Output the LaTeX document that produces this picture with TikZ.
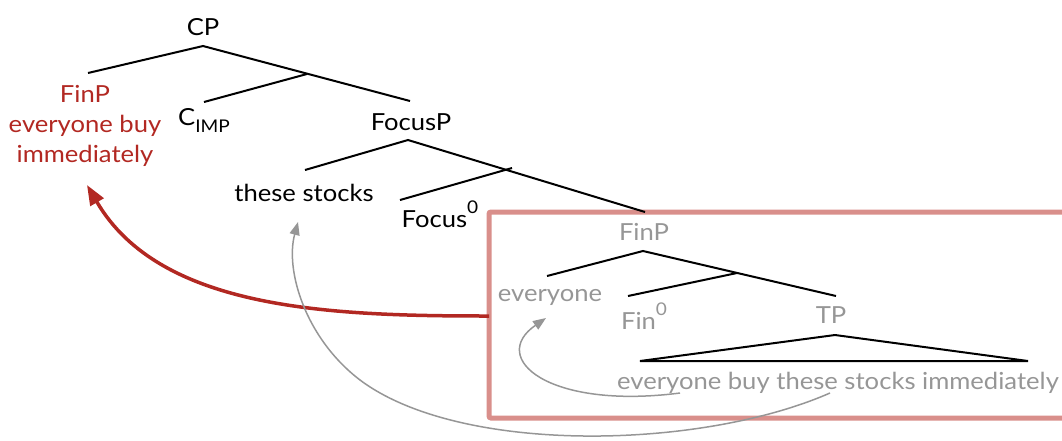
\documentclass[tikz,border=0pt]{standalone}
\usepackage{fontspec}
\setmainfont{Lato}[FakeStretch=1.09]
\usetikzlibrary{arrows.meta}
\definecolor{treered}{RGB}{178,40,34}
\definecolor{boxred}{RGB}{217,143,139}
\definecolor{txtgray}{RGB}{150,150,150}
\newcommand{\mysub}[1]{\raisebox{-0.34em}{\fontsize{17.5}{17.5}\selectfont #1}}
\newcommand{\mysup}[1]{\raisebox{0.56em}{\fontsize{17.5}{17.5}\selectfont #1}}
\begin{document}
\begin{tikzpicture}[x=1pt,y=-1pt,
  lbl/.style={inner sep=0pt, font=\fontsize{23.5}{30}\selectfont, anchor=base},
  glbl/.style={lbl, text=txtgray},
  branch/.style={line width=2pt, black},
  movebox/.style={draw=boxred, line width=5pt, rounded corners=2pt},
  redmove/.style={draw=treered, line width=3.5pt, -{Triangle[length=20pt,width=15pt]}},
  graymove/.style={draw=txtgray, line width=1.5pt, -{Triangle[length=13pt,width=10pt]}}]
\useasboundingbox (0,0) rectangle (1062,440);
% box
\draw[movebox] (489,212) rectangle (1075,418);
% labels
\node[lbl] (cp) at (203,35) {CP};
\node[lbl, text=treered, align=center, anchor=north] (finpR) at (85,85) {FinP\\everyone buy\\immediately};
\node[lbl] (cimp) at (204,125) {C\mysub{IMP}};
\node[lbl] (focusp) at (411,130) {FocusP};
\node[lbl] (these) at (304,201) {these stocks};
\node[lbl] (focus0) at (440,227) {Focus\mysup{0}};
\node[glbl] (finpG) at (644,240) {FinP};
\node[glbl] (every) at (550,301) {everyone};
\node[glbl] (fin0) at (644,329) {Fin\mysup{0}};
\node[glbl] (tp) at (831,323) {TP};
\node[glbl] (sent) at (838,389) {everyone buy these stocks immediately};
% tree coordinates
\coordinate (cpT) at (203,46);
\coordinate (cpL) at (88,73);
\coordinate (cbar) at (307,74);
\coordinate (cpR) at (410,101);
\coordinate (cimpT) at (204,102);
\coordinate (focT) at (408,140);
\coordinate (focL) at (305,170);
\coordinate (focbar) at (512,168);
\coordinate (focR) at (645,212);
\coordinate (foc0T) at (400,200);
\coordinate (finT) at (643,251);
\coordinate (finL) at (547,276);
\coordinate (finbar) at (737,273);
\coordinate (finR) at (836,296);
\coordinate (fin0T) at (628,296);
\coordinate (tpT) at (835,335);
\coordinate (tpL) at (640,361);
\coordinate (tpR) at (1028,361);
\draw[branch] (cpL) -- (cpT) -- (cpR);
\draw[branch] (cbar) -- (cimpT);
\draw[branch] (focL) -- (focT) -- (focR);
\draw[branch] (focbar) -- (foc0T);
\draw[branch] (finL) -- (finT) -- (finR);
\draw[branch] (finbar) -- (fin0T);
\draw[branch] (tpT) -- (tpL) -- (tpR) -- cycle;
% movement arrows
\coordinate (redStart) at (489,316);
\coordinate (redEnd) at (87,185);
\draw[redmove] (redStart) .. controls (330,316) and (160,310) .. (redEnd);
\coordinate (g1s) at (680,393);
\coordinate (g1e) at (546,318);
\draw[graymove] (g1s) .. controls (548,410) and (488,358) .. (g1e);
\coordinate (g2s) at (830,393);
\coordinate (g2m) at (360,380);
\coordinate (g2e) at (298,222);
\draw[graymove] (g2s) .. controls (700,450) and (460,455) .. (g2m) .. controls (305,338) and (285,270) .. (g2e);
\end{tikzpicture}
\end{document}
